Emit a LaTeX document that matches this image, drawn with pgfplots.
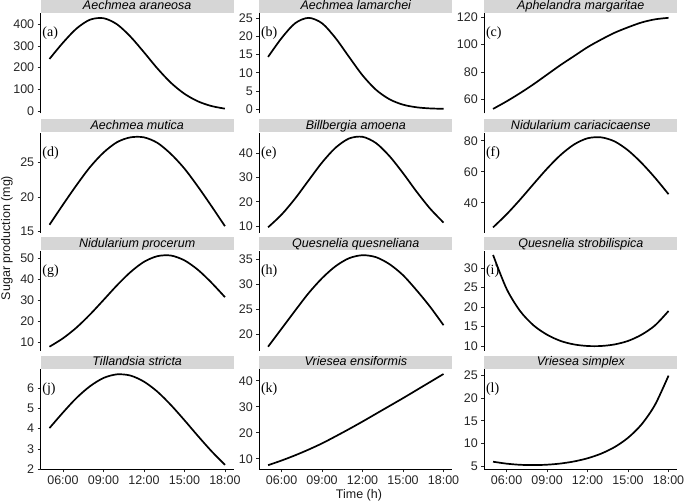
\documentclass[border=0pt]{standalone}
\usepackage{pgfplots}
\pgfplotsset{compat=1.18}
\usepackage{fontspec}
\setmainfont{Liberation Sans}
\newfontfamily\seriffont{Liberation Serif}
\definecolor{stripgray}{RGB}{214,214,214}
\pgfplotsset{
  basepanel/.style={
    scale only axis, width=193pt, height=100pt,
    xmin=4.35, xmax=18.65,
    axis line style={-, line width=0.8pt, black},
    tick align=outside, major tick length=3pt,
    tick style={line width=0.7pt, black!85},
    clip=false,
    /pgf/number format/assume math mode=true,
    ticklabel style={font=\fontsize{12.5}{14}\selectfont, color=black!85},
    anchor=south west,
  },
  panel/.style={
    basepanel,
    axis y line*=left, axis x line=none,
    xtick=\empty,
  },
  bottompanel/.style={
    basepanel,
    axis lines*=left,
    xtick={6,9,12,15,18},
    xticklabels={06:00,09:00,12:00,15:00,18:00},
  },
  curve/.style={black, line width=1.7pt, smooth, no markers},
}
\tikzset{
  strip/.style={fill=stripgray, anchor=south, minimum width=193pt, minimum height=13pt,
    inner sep=0pt, text height=9.2pt, text depth=2.6pt, font=\fontsize{12.5}{14}\selectfont\itshape},
  plab/.style={anchor=west, inner sep=1.5pt, font=\seriffont\fontsize{14}{16}\selectfont},
}
\begin{document}
\begin{tikzpicture}[x=1pt,y=1pt]
\useasboundingbox (0,0) rectangle (685,501);
% Row 1
\begin{axis}[panel, at={(40.7pt,387.7pt)}, ymin=-10.6, ymax=450.6, ytick={0,100,200,300,400}]
\addplot[curve] coordinates {(5,240) (6,315) (7,380) (8,421) (9,428) (10,400) (11,343) (12,271) (13,196) (14,130) (15,79.4) (16,44.5) (17,22.9) (18,10.8)};
\node[strip] at (rel axis cs:0.5,1) {Aechmea araneosa};
\node[plab] at (rel axis cs:0,0.8) {(a)};
\end{axis}
\begin{axis}[panel, at={(259.3pt,387.7pt)}, ymin=-1.19, ymax=26.46, ytick={0,5,10,15,20,25}]
\addplot[curve] coordinates {(5,14.4) (6,19.6) (7,23.7) (8,25.2) (9,23.7) (10,19.6) (11,14.4) (12,9.3) (13,5.3) (14,2.68) (15,1.19) (16,0.47) (17,0.16) (18,0.05)};
\node[strip] at (rel axis cs:0.5,1) {Aechmea lamarchei};
\node[plab] at (rel axis cs:0,0.8) {(b)};
\end{axis}
\begin{axis}[panel, at={(484.3pt,387.7pt)}, ymin=49.8, ymax=122.7, ytick={60,80,100,120}]
\addplot[curve] coordinates {(5,53) (6,58.5) (7,64.5) (8,71) (9,78) (10,85) (11,91.5) (12,98) (13,103.5) (14,108.5) (15,112.5) (16,116) (17,118.3) (18,119.4)};
\node[strip] at (rel axis cs:0.5,1) {Aphelandra margaritae};
\node[plab] at (rel axis cs:0,0.8) {(c)};
\end{axis}
% Row 2
\begin{axis}[panel, at={(40.7pt,268.3pt)}, ymin=14.86, ymax=29.27, ytick={15,20,25}]
\addplot[curve] coordinates {(5,16.0) (6,18.9) (7,21.7) (8,24.3) (9,26.4) (10,27.9) (11,28.6) (12,28.6) (13,27.8) (14,26.2) (15,24.1) (16,21.5) (17,18.7) (18,15.8)};
\node[strip] at (rel axis cs:0.5,1) {Aechmea mutica};
\node[plab] at (rel axis cs:0,0.8) {(d)};
\end{axis}
\begin{axis}[panel, at={(259.3pt,268.3pt)}, ymin=7.23, ymax=48.5, ytick={10,20,30,40}]
\addplot[curve] coordinates {(5,9.46) (6,14.7) (7,21.3) (8,28.8) (9,36.2) (10,42.3) (11,46.1) (12,46.8) (13,44.2) (14,38.8) (15,31.8) (16,24.2) (17,17.2) (18,11.4)};
\node[strip] at (rel axis cs:0.5,1) {Billbergia amoena};
\node[plab] at (rel axis cs:0,0.8) {(e)};
\end{axis}
\begin{axis}[panel, at={(484.3pt,268.3pt)}, ymin=20.65, ymax=85.2, ytick={40,60,80}]
\addplot[curve] coordinates {(5,24.1) (6,32.5) (7,42.0) (8,52.1) (9,62.0) (10,70.8) (11,77.6) (12,81.6) (13,82.2) (14,79.6) (15,73.8) (16,65.7) (17,56.1) (18,45.5)};
\node[strip] at (rel axis cs:0.5,1) {Nidularium cariacicaense};
\node[plab] at (rel axis cs:0,0.8) {(f)};
\end{axis}
% Row 3
\begin{axis}[panel, at={(40.7pt,150.3pt)}, ymin=6.0, ymax=53.6, ytick={10,20,30,40,50}]
\addplot[curve] coordinates {(5,7.9) (6,11.9) (7,17.0) (8,23.2) (9,30.1) (10,37.1) (11,43.4) (12,48.3) (13,51.0) (14,51.3) (15,49.0) (16,44.5) (17,38.4) (18,31.5)};
\node[strip] at (rel axis cs:0.5,1) {Nidularium procerum};
\node[plab] at (rel axis cs:0,0.8) {(g)};
\end{axis}
\begin{axis}[panel, at={(259.3pt,150.3pt)}, ymin=16.7, ymax=36.7, ytick={20,25,30,35}]
\addplot[curve] coordinates {(5,17.5) (6,21.1) (7,24.7) (8,28.2) (9,31.2) (10,33.6) (11,35.2) (12,35.8) (13,35.4) (14,34.0) (15,31.8) (16,28.8) (17,25.5) (18,21.8)};
\node[strip] at (rel axis cs:0.5,1) {Quesnelia quesneliana};
\node[plab] at (rel axis cs:0,0.8) {(h)};
\end{axis}
\begin{axis}[panel, at={(484.3pt,150.3pt)}, ymin=8.79, ymax=34.5, ytick={10,15,20,25,30}]
\addplot[curve] coordinates {(5,33.4) (6,24.7) (7,19.0) (8,15.3) (9,12.9) (10,11.3) (11,10.4) (12,10.0) (13,10.0) (14,10.4) (15,11.3) (16,12.9) (17,15.3) (18,19.0)};
\node[strip] at (rel axis cs:0.5,1) {Quesnelia strobilispica};
\node[plab] at (rel axis cs:0,0.8) {(i)};
\end{axis}
% Row 4
\begin{axis}[bottompanel, at={(40.7pt,31.7pt)}, ymin=1.99, ymax=6.94, ytick={2,3,4,5,6}]
\addplot[curve] coordinates {(5,4.03) (6,4.80) (7,5.52) (8,6.10) (9,6.51) (10,6.69) (11,6.63) (12,6.33) (13,5.83) (14,5.17) (15,4.42) (16,3.64) (17,2.89) (18,2.21)};
\node[strip] at (rel axis cs:0.5,1) {Tillandsia stricta};
\node[plab] at (rel axis cs:0,0.8) {(j)};
\end{axis}
\begin{axis}[bottompanel, at={(259.3pt,31.7pt)}, ymin=5.92, ymax=44.4, ytick={10,20,30,40}]
\addplot[curve] coordinates {(5,7.5) (6,9.3) (7,11.3) (8,13.5) (9,15.9) (10,18.6) (11,21.4) (12,24.3) (13,27.3) (14,30.3) (15,33.3) (16,36.4) (17,39.5) (18,42.6)};
\node[strip] at (rel axis cs:0.5,1) {Vriesea ensiformis};
\node[plab] at (rel axis cs:0,0.8) {(k)};
\end{axis}
\begin{axis}[bottompanel, at={(484.3pt,31.7pt)}, ymin=4.27, ymax=26.4, ytick={5,10,15,20,25}]
\addplot[curve] coordinates {(5,5.95) (6,5.52) (7,5.27) (8,5.20) (9,5.29) (10,5.55) (11,6.01) (12,6.71) (13,7.73) (14,9.18) (15,11.25) (16,14.2) (17,18.55) (18,25.0)};
\node[strip] at (rel axis cs:0.5,1) {Vriesea simplex};
\node[plab] at (rel axis cs:0,0.8) {(l)};
\end{axis}
\node[font=\fontsize{12.5}{14}\selectfont, color=black!90] at (359pt,6pt) {Time (h)};
\node[font=\fontsize{12.5}{14}\selectfont, color=black!90, rotate=90] at (7pt,263pt) {Sugar production (mg)};
\end{tikzpicture}
\end{document}
